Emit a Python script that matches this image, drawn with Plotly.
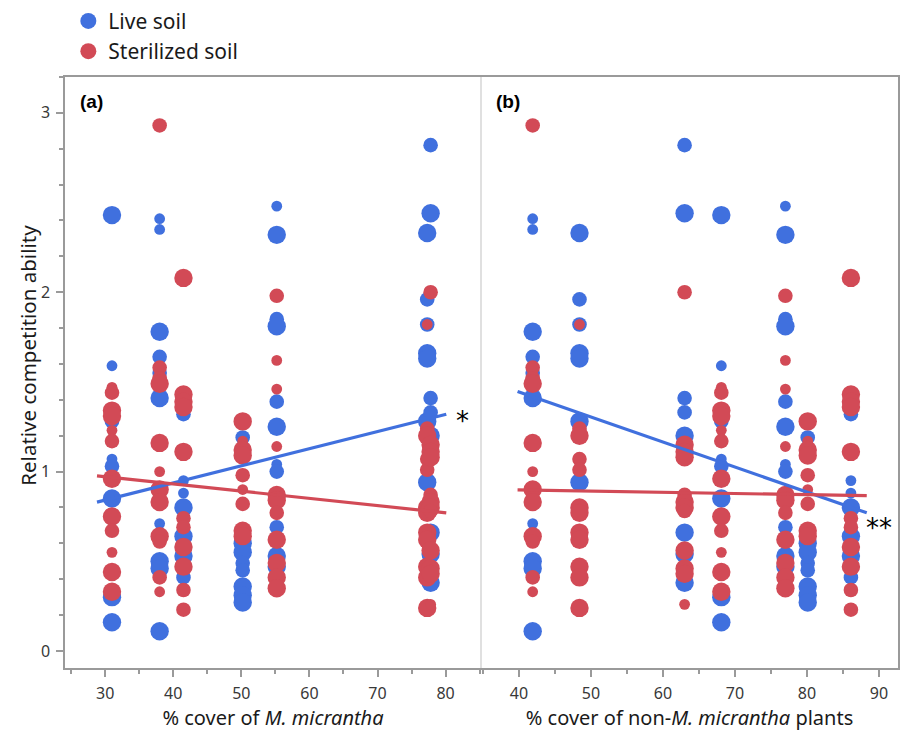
import plotly.graph_objects as go

# ---- data: seven sites, each with % cover of M. micrantha and of other plants
site_cover_M = [31.0, 38.0, 41.5, 50.2, 55.2, 77.3, 77.8]
site_cover_nonM = [68.1, 41.9, 86.1, 80.1, 77.0, 48.4, 63.0]

# relative competition ability, live soil (per site) and bubble weight (1..3)
live_vals = [
    [2.43, 1.59, 1.28, 1.07, 1.03, 0.85, 0.30, 0.16],
    [2.41, 2.35, 1.78, 1.64, 1.55, 1.41, 0.71, 0.50, 0.46, 0.11],
    [1.38, 1.32, 0.95, 0.88, 0.80, 0.64, 0.53, 0.41],
    [1.19, 0.60, 0.55, 0.49, 0.45, 0.36, 0.31, 0.27],
    [2.48, 2.32, 1.85, 1.81, 1.39, 1.25, 1.04, 1.00, 0.69, 0.53, 0.47],
    [2.33, 1.96, 1.82, 1.66, 1.63, 1.28, 0.94],
    [2.82, 2.44, 1.41, 1.33, 1.20, 0.66, 0.54, 0.38],
]
live_w = [
    [3, 1, 2, 1, 2, 3, 3, 3],
    [1, 1, 3, 2, 2, 3, 1, 3, 3, 3],
    [2, 2, 1, 1, 3, 3, 3, 2],
    [2, 3, 3, 2, 2, 3, 3, 3],
    [1, 3, 2, 3, 2, 3, 1, 2, 2, 3, 3],
    [3, 2, 2, 3, 3, 3, 3],
    [2, 3, 2, 2, 3, 3, 3, 3],
]
ster_vals = [
    [1.47, 1.44, 1.34, 1.31, 1.23, 1.17, 0.96, 0.75, 0.67, 0.55, 0.44, 0.33],
    [2.93, 1.58, 1.52, 1.49, 1.16, 1.00, 0.90, 0.83, 0.64, 0.61, 0.41, 0.33],
    [2.08, 1.43, 1.39, 1.36, 1.11, 0.74, 0.69, 0.58, 0.47, 0.34, 0.23],
    [1.28, 1.17, 1.12, 1.09, 0.98, 0.90, 0.82, 0.67, 0.64],
    [1.98, 1.62, 1.46, 1.14, 0.87, 0.84, 0.77, 0.62, 0.49, 0.41, 0.35],
    [1.82, 1.24, 1.20, 1.07, 1.01, 0.80, 0.77, 0.66, 0.62, 0.47, 0.41, 0.24],
    [2.00, 1.15, 1.11, 1.08, 0.87, 0.83, 0.80, 0.78, 0.56, 0.46, 0.43, 0.26],
]
ster_w = [
    [1, 2, 3, 3, 1, 2, 3, 3, 2, 1, 3, 3],
    [2, 2, 2, 3, 3, 1, 3, 3, 3, 2, 2, 1],
    [3, 3, 3, 3, 3, 2, 2, 3, 3, 2, 2],
    [3, 1, 3, 3, 2, 1, 2, 3, 3],
    [2, 1, 1, 1, 3, 3, 2, 3, 3, 3, 3],
    [1, 2, 3, 2, 2, 3, 3, 3, 3, 3, 3, 3],
    [2, 3, 3, 3, 2, 3, 3, 2, 3, 3, 3, 1],
]

# fitted regression lines (intercept, slope, x-start, x-end)
fit_a_live = (0.555, 0.00955, 28.8, 80.1)
fit_a_ster = (1.092, -0.00402, 28.8, 80.1)
fit_b_live = (2.001, -0.01394, 39.8, 88.3)
fit_b_ster = (0.924, -0.00066, 39.8, 88.3)

BLUE = "#4070DE"
RED = "#D24A56"
FONT = "Noto Sans"


def flatten(cover, vals, w):
    xs, ys, ss = [], [], []
    for c, vv, ww in zip(cover, vals, w):
        for v, k in zip(vv, ww):
            xs.append(c)
            ys.append(v)
            ss.append(7.0 + 3.8 * k)
    return xs, ys, ss


fig = go.Figure()

for cover, xa, ya, fits in [
    (site_cover_M, "x", "y", (fit_a_live, fit_a_ster)),
    (site_cover_nonM, "x2", "y2", (fit_b_live, fit_b_ster)),
]:
    for vals, w, col in [(live_vals, live_w, BLUE), (ster_vals, ster_w, RED)]:
        xs, ys, ss = flatten(cover, vals, w)
        fig.add_trace(go.Scatter(
            x=xs, y=ys, mode="markers", xaxis=xa, yaxis=ya, showlegend=False,
            marker=dict(size=ss, color=col, opacity=1, line=dict(width=0)),
            hoverinfo="x+y",
        ))
    for (b0, b1, x0, x1), col in zip(fits, (BLUE, RED)):
        fig.add_trace(go.Scatter(
            x=[x0, x1], y=[b0 + b1 * x0, b0 + b1 * x1], mode="lines",
            xaxis=xa, yaxis=ya, showlegend=False,
            line=dict(color=col, width=3.2),
        ))

# legend entries
for name, col in [("Live soil", BLUE), ("Sterilized soil", RED)]:
    fig.add_trace(go.Scatter(x=[None], y=[None], mode="markers", name=name,
                             marker=dict(size=20, color=col)))

axis_line = "#9a9a9a"
tickfont = dict(family=FONT, size=16, color="#383838")
titlefont = dict(family=FONT, size=20, color="#1a1a1a")

common_x = dict(
    showgrid=False, zeroline=False, showline=True, mirror=True,
    linecolor=axis_line, linewidth=1.5, ticks="outside", ticklen=7,
    tickcolor=axis_line, tickwidth=1.5, tickfont=tickfont, dtick=10,
    minor=dict(dtick=5, ticks="outside", ticklen=4, tickcolor=axis_line, tickwidth=1.5),
    ticklabelstandoff=3, title_font=titlefont, title_standoff=8,
)

fig.update_layout(
    width=903, height=740,
    margin=dict(l=65, r=5, t=77, b=72, autoexpand=False),
    paper_bgcolor="white", plot_bgcolor="white",
    font=dict(family=FONT),
    showlegend=True,
    legend=dict(
        x=0.004, y=1.129,
        xanchor="left", yanchor="top", font=dict(family=FONT, size=21, color="#1a1a1a"),
        itemsizing="trace", tracegroupgap=0, bgcolor="rgba(0,0,0,0)",
    ),
    xaxis=dict(domain=[0, 0.4994], range=[24.1, 85.2],
               title_text="% cover of <i>M. micrantha</i>", **common_x),
    xaxis2=dict(domain=[0.4994, 1], range=[34.72, 92.64], anchor="y2",
                title_text="% cover of non-<i>M. micrantha</i> plants", **common_x),
    yaxis=dict(range=[-0.095, 3.2], showgrid=False, zeroline=False, showline=True,
               linecolor=axis_line, linewidth=1.5, ticks="outside", ticklen=7,
               tickcolor=axis_line, tickwidth=1.5, tickfont=tickfont, dtick=1,
               minor=dict(dtick=0.2, ticks="outside", ticklen=4, tickcolor=axis_line, tickwidth=1.5),
               ticklabelstandoff=3),
    yaxis2=dict(range=[-0.095, 3.2], anchor="x2", side="right", showgrid=False,
                zeroline=False, showline=True, linecolor=axis_line, linewidth=1.5,
                showticklabels=False, ticks=""),
    shapes=[dict(type="line", xref="paper", yref="paper", x0=0.4994, x1=0.4994,
                 y0=0, y1=1, line=dict(color="#d6d6d6", width=1.5))],
    annotations=[
        dict(text="Relative competition ability", xref="paper", yref="paper",
             x=-0.0445, y=0.53, textangle=-90, showarrow=False,
             xanchor="center", yanchor="middle", font=dict(family=FONT, size=20.5, color="#1a1a1a")),
        dict(text="<b>(a)</b>", xref="x domain", yref="y domain", x=0.032, y=0.98,
             xanchor="left", yanchor="top", showarrow=False,
             font=dict(family="Liberation Sans", size=19, color="black")),
        dict(text="<b>(b)</b>", xref="x2 domain", yref="y2 domain", x=0.032, y=0.98,
             xanchor="left", yanchor="top", showarrow=False,
             font=dict(family="Liberation Sans", size=19, color="black")),
        dict(text="*", xref="x", yref="y", x=82.5, y=1.32, showarrow=False,
             xanchor="center", yanchor="middle", yshift=-7,
             font=dict(family="DejaVu Sans", size=26, color="black")),
        dict(text="**", xref="x2", yref="y2", x=90.0, y=0.71, showarrow=False,
             xanchor="center", yanchor="middle", yshift=-4,
             font=dict(family="DejaVu Sans", size=26, color="black")),
    ],
)

fig.write_html("out.html")
